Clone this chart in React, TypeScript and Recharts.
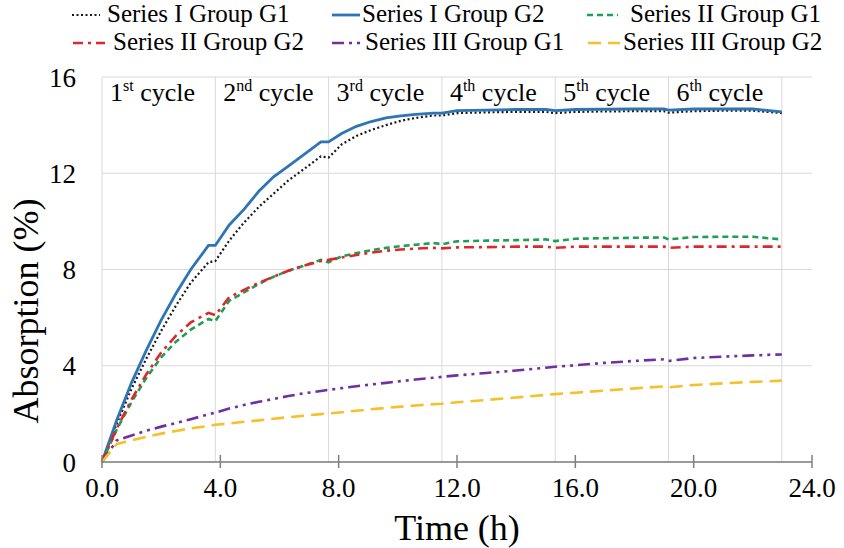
import React from 'react';
import { LineChart, Line, XAxis, YAxis, CartesianGrid, ReferenceLine } from 'recharts';

const FONT = "'Liberation Serif', 'Times New Roman', serif";

// time (h) of each reading
const times = [
  0, 0.5, 1.0, 1.5, 2.0, 2.5, 3.0, 3.6, 3.83,
  4.3, 4.8, 5.3, 5.8, 6.3, 6.8, 7.4, 7.66,
  8.1, 8.6, 9.1, 9.6, 10.1, 10.6, 11.2, 11.49,
  12.0, 13.0, 14.0, 15.0, 15.32,
  16.0, 17.0, 18.0, 19.0, 19.15,
  20.0, 21.0, 22.0, 22.98,
];

const seriesIG1 = [
  0, 1.6, 3.05, 4.3, 5.45, 6.5, 7.45, 8.3, 8.35,
  9.2, 9.95, 10.6, 11.15, 11.7, 12.15, 12.7, 12.65,
  13.2, 13.55, 13.8, 14.0, 14.18, 14.3, 14.4, 14.4,
  14.5, 14.53, 14.55, 14.55, 14.5,
  14.55, 14.57, 14.58, 14.58, 14.52,
  14.58, 14.6, 14.6, 14.5,
];

const seriesIG2 = [
  0, 1.75, 3.3, 4.65, 5.9, 7.0, 8.0, 9.0, 9.0,
  9.85, 10.5, 11.25, 11.85, 12.3, 12.75, 13.3, 13.3,
  13.65, 13.95, 14.15, 14.3, 14.38, 14.45, 14.5, 14.5,
  14.6, 14.62, 14.65, 14.65, 14.6,
  14.65, 14.66, 14.67, 14.67, 14.62,
  14.67, 14.67, 14.67, 14.55,
];

const seriesIIG1 = [
  0, 1.35, 2.5, 3.5, 4.35, 5.0, 5.5, 5.95, 5.85,
  6.7, 7.05, 7.4, 7.7, 7.95, 8.15, 8.4, 8.3,
  8.55, 8.68, 8.8, 8.9, 8.97, 9.03, 9.1, 9.05,
  9.17, 9.2, 9.22, 9.25, 9.18,
  9.28, 9.3, 9.32, 9.33, 9.25,
  9.35, 9.36, 9.36, 9.25,
];

const seriesIIG2 = [
  0, 1.4, 2.6, 3.65, 4.55, 5.25, 5.8, 6.2, 6.1,
  6.85, 7.15, 7.45, 7.7, 7.95, 8.15, 8.35, 8.4,
  8.5, 8.6, 8.7, 8.78, 8.83, 8.87, 8.9, 8.88,
  8.92, 8.93, 8.95, 8.95, 8.9,
  8.95, 8.95, 8.95, 8.95, 8.9,
  8.95, 8.95, 8.95, 8.95,
];

const seriesIIIG1 = [
  0, 0.9, 1.1, 1.3, 1.47, 1.62, 1.78, 1.98, 2.05,
  2.22, 2.37, 2.5, 2.62, 2.74, 2.85, 2.95, 3.0,
  3.07, 3.15, 3.22, 3.29, 3.36, 3.43, 3.5, 3.54,
  3.6, 3.7, 3.8, 3.92, 3.96,
  4.02, 4.12, 4.2, 4.27, 4.2,
  4.32, 4.38, 4.43, 4.47,
];

const seriesIIIG2 = [
  0, 0.75, 0.9, 1.05, 1.18, 1.29, 1.4, 1.5, 1.55,
  1.6, 1.67, 1.73, 1.8, 1.86, 1.92, 1.99, 2.02,
  2.07, 2.13, 2.19, 2.25, 2.3, 2.35, 2.4, 2.42,
  2.48, 2.58, 2.68, 2.79, 2.82,
  2.88, 2.97, 3.06, 3.14, 3.1,
  3.2, 3.27, 3.33, 3.38,
];

// cycle boundaries (h)
const cycleStarts = [0, 3.83, 7.66, 11.49, 15.32, 19.15, 22.98];
const cycleNums = ['1', '2', '3', '4', '5', '6'];
const cycleSuffix = ['st', 'nd', 'rd', 'th', 'th', 'th'];

const xTicks = [0, 4, 8, 12, 16, 20, 24];
const yTicks = [0, 4, 8, 12, 16];

const series = [
  { key: 'sIG1', name: 'Series I Group G1', values: seriesIG1, color: '#1a1a1a', dash: '2 2.5', width: 2.2 },
  { key: 'sIG2', name: 'Series I Group G2', values: seriesIG2, color: '#2e75b6', dash: undefined, width: 2.8 },
  { key: 'sIIG1', name: 'Series II Group G1', values: seriesIIG1, color: '#1f9e55', dash: '6 4', width: 2.6 },
  { key: 'sIIG2', name: 'Series II Group G2', values: seriesIIG2, color: '#e0262a', dash: '10 5 3 5', width: 2.6 },
  { key: 'sIIIG1', name: 'Series III Group G1', values: seriesIIIG1, color: '#7030a0', dash: '12 5 3 5 3 5', width: 2.6 },
  { key: 'sIIIG2', name: 'Series III Group G2', values: seriesIIIG2, color: '#f5c02a', dash: '13 7', width: 2.6 },
];

const data = times.map((t, i) => {
  const row: any = { t };
  series.forEach(s => { row[s.key] = s.values[i]; });
  return row;
});

// legend slots: [lineStart, lineEnd, textX, baselineY]
const legendSlots = [
  [72, 100, 107, 22],
  [332, 360, 362, 22],
  [587, 618, 630, 22],
  [73, 105, 113, 50],
  [332, 362, 365, 50],
  [588, 620, 623, 50],
];

const XTick = ({ x, y, payload }: any) => (
  <g>
    <line x1={x} x2={x} y1={y - 7} y2={y + 6} stroke="#7f7f7f" strokeWidth={1.5} />
    <text x={x} y={y + 35} textAnchor="middle" fontSize={27} fontFamily={FONT} fill="#000">
      {Number(payload.value).toFixed(1)}
    </text>
  </g>
);

const CycleLabel = ({ viewBox, idx }: any) => {
  if (!viewBox) return null;
  return (
    <text x={viewBox.x + 8} y={viewBox.y + 24} fontSize={26} fontFamily={FONT} fill="#000">
      <tspan>{cycleNums[idx]}</tspan>
      <tspan fontSize={16} dy={-10}>{cycleSuffix[idx]}</tspan>
      <tspan dy={10}> cycle</tspan>
    </text>
  );
};

const Legend6 = () => (
  <svg width={844} height={60} style={{ position: 'absolute', left: 0, top: 0 }}>
    {series.map((s, i) => {
      const [x1, x2, tx, by] = legendSlots[i];
      return (
        <g key={s.key}>
          <line x1={x1} x2={x2} y1={by - 7} y2={by - 7} stroke={s.color}
            strokeWidth={s.width} strokeDasharray={s.dash} />
          <text x={tx} y={by} fontSize={25} fontFamily={FONT} fill="#000">{s.name}</text>
        </g>
      );
    })}
  </svg>
);

export default function App() {
  return (
    <div style={{ position: 'absolute', left: 0, top: 0, width: 844, height: 548, background: '#fff' }}>
      <LineChart width={844} height={548} data={data} margin={{ top: 77, right: 32, bottom: 0, left: 0 }}>
        <CartesianGrid vertical={false} stroke="#d9d9d9" />
        {cycleStarts.map((c, i) => (
          <ReferenceLine key={c} x={c} stroke="#d9d9d9" strokeWidth={1}
            label={i < cycleNums.length ? (p: any) => <CycleLabel {...p} idx={i} /> : undefined} />
        ))}
        <XAxis
          dataKey="t"
          type="number"
          domain={[0, 24]}
          ticks={xTicks}
          interval={0}
          height={86}
          axisLine={{ stroke: '#7f7f7f', strokeWidth: 1.5 }}
          tickLine={false}
          tickSize={0}
          tickMargin={0}
          tick={(p: any) => <XTick {...p} />}
          label={{
            content: () => (
              <text x={457} y={540} textAnchor="middle" fontSize={36} fontFamily={FONT} fill="#000">Time (h)</text>
            ),
          }}
        />
        <YAxis
          type="number"
          domain={[0, 16]}
          ticks={yTicks}
          width={102}
          axisLine={false}
          tickLine={false}
          tickSize={0}
          tickMargin={26}
          tick={{ fontSize: 27, fontFamily: FONT, fill: '#000' }}
          label={{
            content: () => (
              <text x={38} y={311} transform="rotate(-90, 38, 311)" textAnchor="middle" fontSize={36}
                fontFamily={FONT} fill="#000">Absorption (%)</text>
            ),
          }}
        />
        {series.map(s => (
          <Line
            key={s.key}
            type="linear"
            dataKey={s.key}
            name={s.name}
            stroke={s.color}
            strokeWidth={s.width}
            strokeDasharray={s.dash}
            dot={false}
            isAnimationActive={false}
          />
        ))}
      </LineChart>
      <Legend6 />
    </div>
  );
}
